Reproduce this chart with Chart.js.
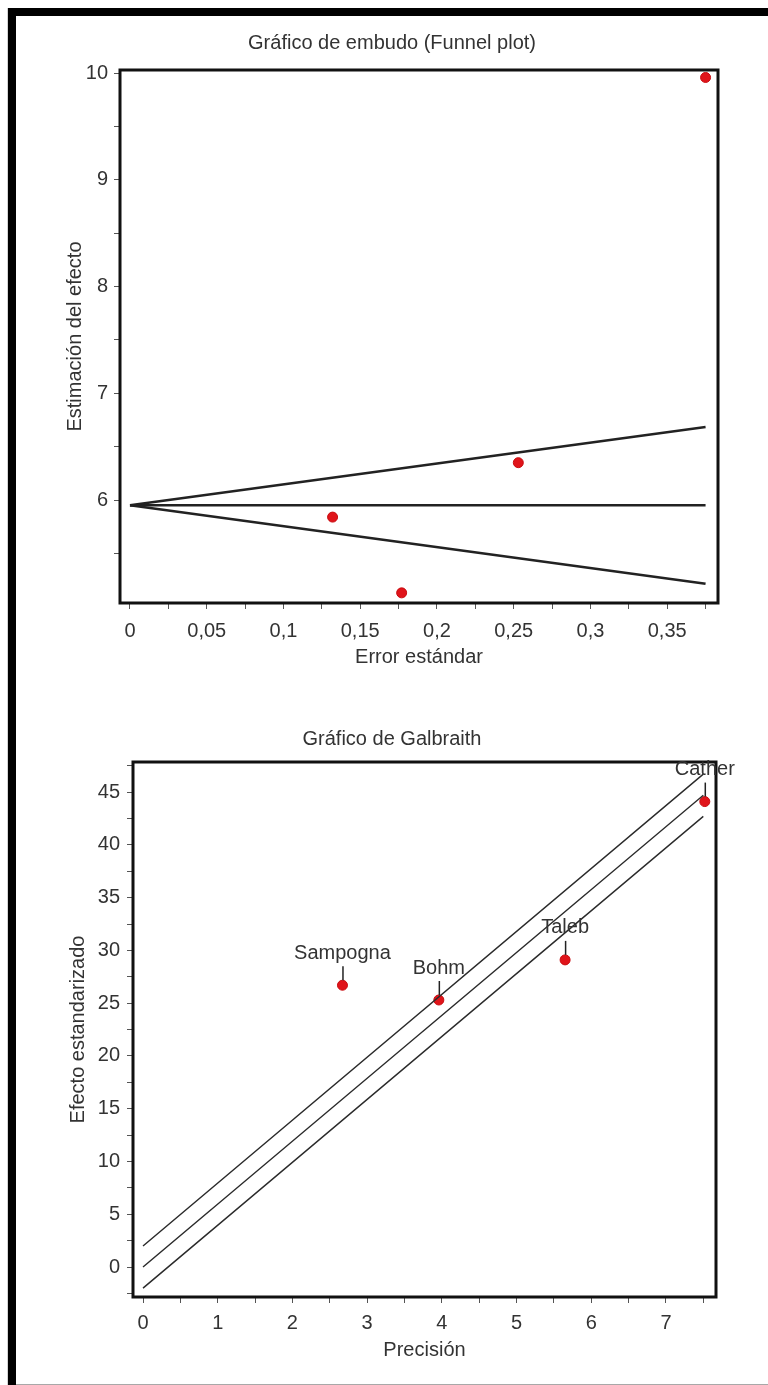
<!DOCTYPE html>
<html>
<head>
<meta charset="utf-8">
<script src="https://cdn.jsdelivr.net/npm/chart.js@4.4.1/dist/chart.umd.min.js"></script>
<style>
  html, body { margin: 0; padding: 0; background: #fff; }
  body { width: 768px; height: 1385px; position: relative; overflow: hidden; }
  .edge-left { position: absolute; left: 7px; top: 8px; width: 1px; height: 1377px; background: #d4d4d4; }
  .frame-left { position: absolute; left: 8px; top: 8px; width: 8px; height: 1377px; background: #000; }
  .frame-top { position: absolute; left: 8px; top: 8px; width: 760px; height: 8px; background: #000; }
  .edge-bottom { position: absolute; left: 16px; top: 1384px; width: 752px; height: 1px; background: #a8a8a8; }
  canvas { position: absolute; left: 16px; }
  #funnel { top: 16px; }
  #galbraith { top: 690px; }
</style>
</head>
<body>
<div class="edge-left"></div>
<div class="frame-left"></div>
<div class="frame-top"></div>
<div class="edge-bottom"></div>
<canvas id="funnel" width="752" height="665"></canvas>
<canvas id="galbraith" width="752" height="680"></canvas>
<script>
// --- Funnel plot ---
const funnelSE = [0.375, 0.253, 0.132, 0.177];
const funnelEffect = [9.96, 6.35, 5.84, 5.13];
const funnelLineSE = [0, 0.375];
const funnelCenter = [5.95, 5.95];
const funnelUpper = [5.95, 6.685];
const funnelLower = [5.95, 5.215];
const funnelXTicks = [0, 0.05, 0.1, 0.15, 0.2, 0.25, 0.3, 0.35];
const funnelXMinor = [0.025, 0.075, 0.125, 0.175, 0.225, 0.275, 0.325, 0.375];
const funnelYTicks = [6, 7, 8, 9, 10];
const funnelYMinor = [5.5, 6.5, 7.5, 8.5, 9.5];

// --- Galbraith plot ---
const studies = ['Sampogna', 'Bohm', 'Taleb', 'Cather'];
const precision = [2.67, 3.96, 5.65, 7.52];
const stdEffect = [26.7, 25.3, 29.1, 44.1];
const galLineX = [0, 7.5];
const galCenter = [0, 44.7];
const galUpper = [2, 46.7];
const galLower = [-2, 42.7];
const galXTicks = [0, 1, 2, 3, 4, 5, 6, 7];
const galXMinor = [0.5, 1.5, 2.5, 3.5, 4.5, 5.5, 6.5, 7.5];
const galYTicks = [0, 5, 10, 15, 20, 25, 30, 35, 40, 45];
const galYMinor = [-2.5, 2.5, 7.5, 12.5, 17.5, 22.5, 27.5, 32.5, 37.5, 42.5, 47.5];

const FONT = '"Liberation Sans", Arial, sans-serif';
Chart.defaults.font.family = FONT;
Chart.defaults.font.size = 20;
Chart.defaults.color = '#333';

const textColor = '#333';
const fmt = v => String(v).replace('.', ',');

// ticks = majors (labelled) + minors (no label)
function tickSet(major, minor) {
  return scale => {
    scale.ticks = major.map(v => ({ value: v, major: true }))
      .concat(minor.map(v => ({ value: v, major: false })))
      .sort((a, b) => a.value - b.value);
  };
}

function pairs(xs, ys) {
  return xs.map((x, i) => ({ x: x, y: ys[i] }));
}

// box around the plot area
const framePlugin = {
  id: 'frame',
  beforeDatasetsDraw(chart) {
    const { ctx, chartArea: a } = chart;
    ctx.save();
    ctx.strokeStyle = '#111';
    ctx.lineWidth = 3;
    ctx.strokeRect(a.left, a.top, a.right - a.left, a.bottom - a.top);
    ctx.restore();
  }
};

// study names above the Galbraith points
const studyLabels = {
  id: 'studyLabels',
  afterDatasetsDraw(chart) {
    const { ctx } = chart;
    const xs = chart.scales.x, ys = chart.scales.y;
    ctx.save();
    ctx.strokeStyle = '#222';
    ctx.lineWidth = 1.5;
    ctx.fillStyle = textColor;
    ctx.font = '20px ' + FONT;
    ctx.textAlign = 'center';
    ctx.textBaseline = 'middle';
    studies.forEach((name, i) => {
      const px = xs.getPixelForValue(precision[i]);
      const py = ys.getPixelForValue(stdEffect[i]);
      ctx.beginPath();
      ctx.moveTo(px + 0.5, py - 5);
      ctx.lineTo(px + 0.5, py - 19);
      ctx.stroke();
      ctx.fillText(name, px, py - 32);
    });
    ctx.restore();
  }
};

function axis(opts) {
  return {
    type: 'linear',
    min: opts.min,
    max: opts.max,
    afterBuildTicks: tickSet(opts.major, opts.minor),
    afterFit: opts.fit,
    border: { display: false },
    grid: { display: true, drawOnChartArea: false, drawTicks: true, tickLength: 6, tickColor: '#555' },
    ticks: {
      autoSkip: false,
      maxRotation: 0,
      padding: opts.pad,
      color: textColor,
      callback: (v, i, ticks) => ticks[i].major ? fmt(v) : ''
    },
    title: { display: true, text: opts.title, color: textColor, font: { size: 20 }, padding: opts.titlePad }
  };
}

// empty right-hand axis, only reserves room so the title centres on the whole canvas
function spacer(w) {
  return {
    type: 'linear', position: 'right', display: true,
    grid: { display: false }, border: { display: false }, ticks: { display: false },
    afterFit: s => { s.width = w; }
  };
}

function lineSet(xs, ys, width, color) {
  return {
    type: 'scatter', data: pairs(xs, ys), showLine: true,
    borderColor: color, borderWidth: width, pointRadius: 0, fill: false
  };
}

function pointSet(xs, ys) {
  return {
    type: 'scatter', data: pairs(xs, ys),
    backgroundColor: '#e0141a', borderColor: '#c80c10', borderWidth: 1, pointRadius: 5
  };
}

new Chart(document.getElementById('funnel'), {
  type: 'scatter',
  data: {
    datasets: [
      lineSet(funnelLineSE, funnelUpper, 2.5, '#222'),
      lineSet(funnelLineSE, funnelCenter, 2.5, '#222'),
      lineSet(funnelLineSE, funnelLower, 2.5, '#222'),
      pointSet(funnelSE, funnelEffect)
    ]
  },
  options: {
    responsive: false,
    animation: false,
    layout: { padding: { left: 0, right: 0, top: 0, bottom: 8 } },
    plugins: {
      legend: { display: false },
      tooltip: { enabled: false },
      title: {
        display: true, text: 'Gráfico de embudo (Funnel plot)', color: textColor,
        font: { size: 20, weight: 'normal' }, padding: { top: 15, bottom: 15 }
      }
    },
    scales: {
      x: axis({ min: -0.0065, max: 0.3831, major: funnelXTicks, minor: funnelXMinor, pad: 10,
        title: 'Error estándar', titlePad: { top: 0, bottom: 4 }, fit: s => { s.height = 70; } }),
      y: axis({ min: 5.035, max: 10.03, major: funnelYTicks, minor: funnelYMinor, pad: 6,
        title: 'Estimación del efecto', titlePad: { top: 47, bottom: 0 }, fit: s => { s.width = 104; } }),
      right: spacer(50)
    }
  },
  plugins: [framePlugin]
});

new Chart(document.getElementById('galbraith'), {
  type: 'scatter',
  data: {
    datasets: [
      lineSet(galLineX, galUpper, 1.4, '#2a2a2a'),
      lineSet(galLineX, galCenter, 1.4, '#2a2a2a'),
      lineSet(galLineX, galLower, 1.4, '#2a2a2a'),
      pointSet(precision, stdEffect)
    ]
  },
  options: {
    responsive: false,
    animation: false,
    layout: { padding: { left: 0, right: 0, top: 0, bottom: 4 } },
    plugins: {
      legend: { display: false },
      tooltip: { enabled: false },
      title: {
        display: true, text: 'Gráfico de Galbraith', color: textColor,
        font: { size: 20, weight: 'normal' }, padding: { top: 37, bottom: 11 }
      }
    },
    scales: {
      x: axis({ min: -0.134, max: 7.67, major: galXTicks, minor: galXMinor, pad: 8,
        title: 'Precisión', titlePad: { top: 0, bottom: 4 }, fit: s => { s.height = 69; } }),
      y: axis({ min: -2.84, max: 47.85, major: galYTicks, minor: galYMinor, pad: 7,
        title: 'Efecto estandarizado', titlePad: { top: 50, bottom: 0 }, fit: s => { s.width = 117; } }),
      right: spacer(52)
    }
  },
  plugins: [framePlugin, studyLabels]
});
</script>
</body>
</html>
